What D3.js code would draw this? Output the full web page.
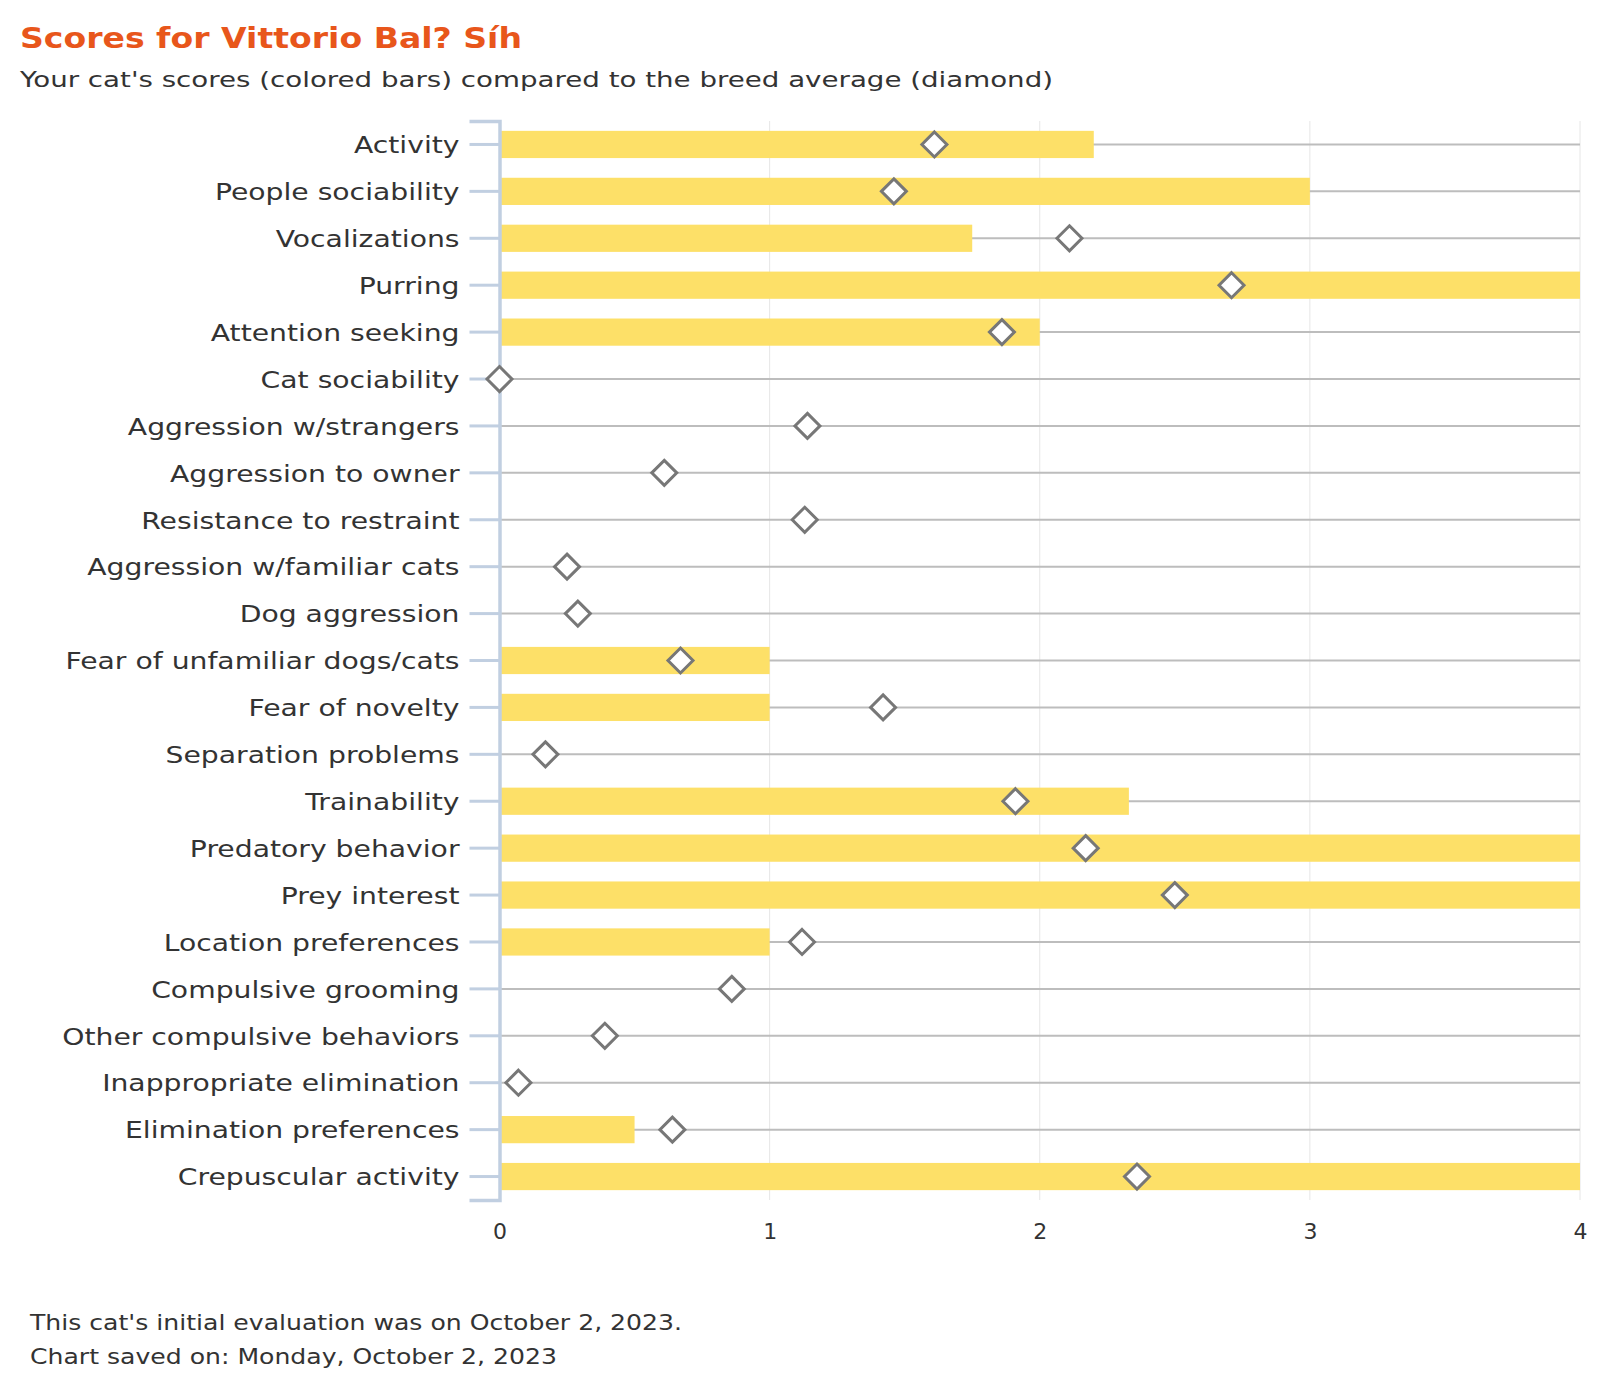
<!DOCTYPE html>
<html><head><meta charset="utf-8">
<script src="https://cdn.jsdelivr.net/npm/d3@7"></script>
<style>body{margin:0;background:#fff;} text{font-family:"DejaVu Sans",sans-serif;}</style>
</head><body><svg id="c" width="1600" height="1400"></svg>
<script>
const categories = ["Activity","People sociability","Vocalizations","Purring","Attention seeking","Cat sociability","Aggression w/strangers","Aggression to owner","Resistance to restraint","Aggression w/familiar cats","Dog aggression","Fear of unfamiliar dogs/cats","Fear of novelty","Separation problems","Trainability","Predatory behavior","Prey interest","Location preferences","Compulsive grooming","Other compulsive behaviors","Inappropriate elimination","Elimination preferences","Crepuscular activity"];
const catScores = [2.2,3,1.75,4,2,0,0,0,0,0,0,1,1,0,2.33,4,4,1,0,0,0,0.5,4];
const breedAvg = [1.61,1.46,2.11,2.71,1.86,0,1.14,0.61,1.13,0.25,0.29,0.67,1.42,0.17,1.91,2.17,2.5,1.12,0.86,0.39,0.07,0.64,2.36];
const xTicks = [0,1,2,3,4];

const svg = d3.select("#c");
const x = d3.scaleLinear().domain([0,4]).range([499.5,1580]);
const y = d3.scaleBand().domain(categories).range([121,1200]).paddingInner(0.42).paddingOuter(0.21);
const rows = categories.map((c,i)=>({c, v:catScores[i], a:breedAvg[i]}));

function stretch(nodes, refNode, target){
  const f = target / refNode.getComputedTextLength();
  nodes.forEach(n=>{
    const w = n.getComputedTextLength();
    d3.select(n).attr("textLength", w*f).attr("lengthAdjust","spacingAndGlyphs");
  });
}

// vertical grid
svg.append("g").selectAll("line").data(xTicks.slice(1)).join("line")
  .attr("x1",d=>x(d)).attr("x2",d=>x(d)).attr("y1",121).attr("y2",1200)
  .attr("stroke","#e6e6e6").attr("stroke-width",1);

// range lines
svg.append("g").selectAll("line").data(rows).join("line")
  .attr("x1",x(0)).attr("x2",x(4))
  .attr("y1",d=>y(d.c)+y.bandwidth()/2).attr("y2",d=>y(d.c)+y.bandwidth()/2)
  .attr("stroke","#bdbdbd").attr("stroke-width",2);

// bars
svg.append("g").selectAll("rect").data(rows.filter(d=>d.v>0)).join("rect")
  .attr("x",x(0)).attr("y",d=>y(d.c)).attr("width",d=>x(d.v)-x(0)).attr("height",y.bandwidth())
  .attr("fill","#fde068");

// y axis
const yAxis = svg.append("g").attr("transform",`translate(${x(0)},0)`)
  .call(d3.axisLeft(y).tickSize(30).tickPadding(10));
yAxis.select(".domain").attr("stroke","#c1cfe1").attr("stroke-width",3.5);
yAxis.selectAll(".tick line").attr("stroke","#c1cfe1").attr("stroke-width",3);
const yLabels = yAxis.selectAll(".tick text").attr("fill","#333").attr("dy","0.38em")
  .style("font-size","23px").style("font-family","'DejaVu Sans',sans-serif");
stretch(yLabels.nodes(), yLabels.filter(d=>d==="Fear of unfamiliar dogs/cats").node(), 394);

// x axis
const xAxis = svg.append("g").attr("transform","translate(0,1200)")
  .call(d3.axisBottom(x).tickValues(xTicks).tickFormat(d3.format("d")).tickSize(0).tickPadding(23));
xAxis.select(".domain").remove();
xAxis.selectAll(".tick text").attr("fill","#333").style("font-size","22px").style("font-family","'DejaVu Sans',sans-serif");

// diamonds
svg.append("g").selectAll("path").data(rows).join("path")
  .attr("transform",d=>`translate(${x(d.a)},${y(d.c)+y.bandwidth()/2})`)
  .attr("d","M0,-12.5L12.5,0L0,12.5L-12.5,0Z")
  .attr("fill","#fff").attr("stroke","#777").attr("stroke-width",3);

// titles
const t1 = svg.append("text").attr("x",20).attr("y",48).text("Scores for Vittorio Bal? Síh")
  .attr("fill","#e8561b").style("font-size","29px").style("font-weight","bold");
stretch([t1.node()], t1.node(), 502);
const t2 = svg.append("text").attr("x",20).attr("y",87).text("Your cat's scores (colored bars) compared to the breed average (diamond)")
  .attr("fill","#333").style("font-size","22px");
stretch([t2.node()], t2.node(), 1033);
const f1 = svg.append("text").attr("x",30).attr("y",1330).text("This cat's initial evaluation was on October 2, 2023.")
  .attr("fill","#333").style("font-size","21px");
const f2 = svg.append("text").attr("x",30).attr("y",1364).text("Chart saved on: Monday, October 2, 2023")
  .attr("fill","#333").style("font-size","21px");
stretch([f1.node(), f2.node()], f1.node(), 652);
</script></body></html>
